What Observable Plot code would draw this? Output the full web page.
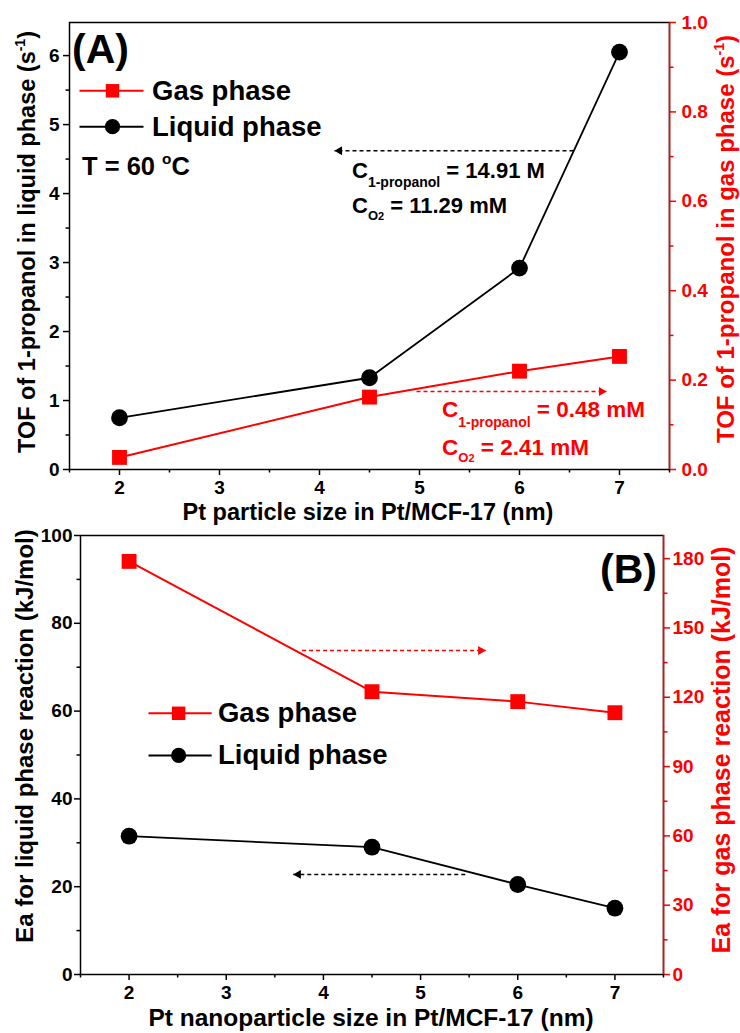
<!DOCTYPE html>
<html><head><meta charset="utf-8">
<script src="https://cdn.jsdelivr.net/npm/d3@7"></script>
<script src="https://cdn.jsdelivr.net/npm/@observablehq/plot@0.6"></script>
<style>
body{margin:0;background:#fff;}
#wrap{width:740px;}
#wrap svg{display:block;}
#wrap svg text{font-weight:bold;}
</style></head><body><div id="wrap"></div>
<script>
// ---- data ----
const sizes = [2, 4.5, 6, 7];                 // Pt particle size (nm)
const tofLiquid = [0.75, 1.33, 2.92, 6.05];   // s^-1, left axis (A)
const tofGas = [0.027, 0.162, 0.220, 0.253];  // s^-1, right axis (A)
const eaLiquid = [31.5, 29.0, 20.5, 15.1];    // kJ/mol, left axis (B)
const eaGas = [178.8, 122.4, 118.1, 113.3];   // kJ/mol, right axis (B)
const xTicks = [2, 3, 4, 5, 6, 7];
const xMinor = [1.5, 2.5, 3.5, 4.5, 5.5, 6.5, 7.5];
const tofLeftTicks = [0, 1, 2, 3, 4, 5, 6];
const tofLeftMinor = [0.5, 1.5, 2.5, 3.5, 4.5, 5.5];
const tofRightTicks = [0, 0.2, 0.4, 0.6, 0.8, 1.0];
const tofRightMinor = [0.1, 0.3, 0.5, 0.7, 0.9];
const eaLeftTicks = [0, 20, 40, 60, 80, 100];
const eaLeftMinor = [10, 30, 50, 70, 90];
const eaRightTicks = [0, 30, 60, 90, 120, 150, 180];
const eaRightMinor = [15, 45, 75, 105, 135, 165];

const FONT = "'Liberation Sans', Arial, Helvetica, sans-serif";
const RED = "#ff0000";
const kA = 6.48;        // left-axis value matching right 1.0 (A)
const kB = 100 / 190;   // left per right unit (B)

function rich(svg, px, py, parts, {size = 22, fill = "black", anchor = "start", rotate = 0} = {}) {
  const t = d3.select(svg).append("text")
    .attr("transform", `translate(${px},${py}) rotate(${rotate})`)
    .attr("text-anchor", anchor).attr("fill", fill)
    .attr("font-family", FONT).attr("font-weight", "bold").attr("font-size", size);
  let shift = 0;
  for (const p of parts) {
    const s = t.append("tspan").text(p.t);
    let target = 0;
    if (p.sub) { s.attr("font-size", p.fs || size * 0.62); target = size * (p.off ?? 0.32); }
    if (p.sup) { s.attr("font-size", p.fs || size * 0.6); target = -size * (p.off ?? 0.42); }
    if (target !== shift) { s.attr("dy", target - shift); shift = target; }
  }
  return t;
}

// Plot's own tick labels are the only texts present right after rendering
function boldTicks(svg) {
  d3.select(svg).selectAll("text")
    .attr("font-size", 19).attr("font-weight", "bold").attr("font-family", FONT)
    .style("font-size", "19px").style("font-weight", "bold").style("font-family", FONT);
}

function axes(leftT, leftM, rightT, rightM, k, fmt, padL, padR) {
  return [
    Plot.axisX(xTicks, {tickSize: 6, tickPadding: 5, label: null, strokeWidth: 1.5, tickFormat: d => String(d)}),
    Plot.axisX(xMinor, {tickSize: 3.5, tickFormat: () => "", label: null, strokeWidth: 1.5}),
    Plot.axisY(leftT, {tickSize: 6, tickPadding: padL, label: null, strokeWidth: 1.5, tickFormat: d => String(d)}),
    Plot.axisY(leftM, {tickSize: 3.5, tickFormat: () => "", label: null, strokeWidth: 1.5}),
    Plot.axisY(rightT.map(v => v * k), {anchor: "right", color: RED, tickSize: 6, tickPadding: padR, tickFormat: fmt, label: null, strokeWidth: 1.5}),
    Plot.axisY(rightM.map(v => v * k), {anchor: "right", color: RED, tickSize: 3.5, tickFormat: () => "", label: null, strokeWidth: 1.5})
  ];
}

function dashedArrow(x1, x2, y, color) {
  const dir = x2 > x1 ? 1 : -1;
  return [
    Plot.link([{x1, x2, y}], {x1: "x1", x2: "x2", y1: "y", y2: "y", stroke: color, strokeWidth: 1.5, strokeDasharray: "4,3"}),
    Plot.dot([{x: x2, y}], {x: "x", y: "y", symbol: "triangle", r: 3.3, fill: color, stroke: "none", rotate: 90 * dir, dx: -5 * dir})
  ];
}

function legendMarks(xl1, xl2, xm, yG, yL) {
  return [
    Plot.link([{a: xl1, b: xl2, y: yG}], {x1: "a", x2: "b", y1: "y", y2: "y", stroke: RED, strokeWidth: 2}),
    Plot.dot([{x: xm, y: yG}], {x: "x", y: "y", symbol: "square", r: 7.6, fill: RED}),
    Plot.link([{a: xl1, b: xl2, y: yL}], {x1: "a", x2: "b", y1: "y", y2: "y", stroke: "black", strokeWidth: 2}),
    Plot.dot([{x: xm, y: yL}], {x: "x", y: "y", r: 7.6, fill: "black"})
  ];
}

const styleObj = {fontFamily: FONT, fontSize: "19px", fontWeight: "bold", background: "white", color: "black", overflow: "visible"};

// ---- Panel A ----
const gasA = sizes.map((x, i) => ({x, y: tofGas[i] * kA}));
const liqA = sizes.map((x, i) => ({x, y: tofLiquid[i]}));
const A = Plot.plot({
  width: 740, height: 520,
  marginTop: 22, marginBottom: 51, marginLeft: 69, marginRight: 71,
  x: {domain: [1.5, 7.5]}, y: {domain: [0, kA]},
  style: styleObj,
  marks: [
    ...axes(tofLeftTicks, tofLeftMinor, tofRightTicks, tofRightMinor, kA, d => (d / kA).toFixed(1), 4, 6),
    Plot.frame({stroke: "black", strokeWidth: 1.5}),
    Plot.ruleX([7.5], {stroke: RED, strokeWidth: 1.5}),
    ...dashedArrow(6.54, 4.15, 4.62, "black"),
    ...dashedArrow(4.97, 6.87, 1.13, RED),
    ...legendMarks(1.60, 2.24, 1.93, 5.49, 4.97),
    Plot.line(gasA, {x: "x", y: "y", stroke: RED, strokeWidth: 2}),
    Plot.dot(gasA, {x: "x", y: "y", symbol: "square", r: 8.4, fill: RED}),
    Plot.line(liqA, {x: "x", y: "y", stroke: "black", strokeWidth: 1.8}),
    Plot.dot(liqA, {x: "x", y: "y", r: 8.4, fill: "black"})
  ]
});
boldTicks(A);
{
  const sx = v => A.scale("x").apply(v), sy = v => A.scale("y").apply(v);
  rich(A, 72, 63, [{t: "(A)"}], {size: 41});
  rich(A, sx(2.33), sy(5.49) + 9.5, [{t: "Gas phase"}], {size: 27.5});
  rich(A, sx(2.33), sy(4.97) + 9.5, [{t: "Liquid phase"}], {size: 27.5});
  rich(A, sx(1.63), sy(4.26), [{t: "T = 60 "}, {t: "o", sup: true, off: 0.45}, {t: "C"}], {size: 25.5});
  rich(A, sx(4.33), sy(4.22), [{t: "C"}, {t: "1-propanol", sub: true, fs: 14, off: 0.42}, {t: " = 14.91 M"}], {size: 22});
  rich(A, sx(4.33), sy(3.71), [{t: "C"}, {t: "O", sub: true, fs: 13, off: 0.3}, {t: "2", sub: true, fs: 11, off: 0.3}, {t: " = 11.29 mM"}], {size: 22});
  rich(A, sx(5.23), sy(0.754), [{t: "C"}, {t: "1-propanol", sub: true, fs: 14, off: 0.45}, {t: " = 0.48 mM"}], {size: 22.5, fill: RED});
  rich(A, sx(5.23), sy(0.203), [{t: "C"}, {t: "O", sub: true, fs: 13, off: 0.3}, {t: "2", sub: true, fs: 11, off: 0.3}, {t: " = 2.41 mM"}], {size: 22.5, fill: RED});
  rich(A, 368, 520, [{t: "Pt particle size in Pt/MCF-17 (nm)"}], {size: 23.5, anchor: "middle"});
  rich(A, 35, 242, [{t: "TOF of 1-propanol in liquid phase (s"}, {t: "-1", sup: true, fs: 14}, {t: ")"}], {size: 23.5, anchor: "middle", rotate: -90});
  rich(A, 734, 239, [{t: "TOF of 1-propanol in gas phase (s"}, {t: "-1", sup: true, fs: 14}, {t: ")"}], {size: 24, anchor: "middle", rotate: -90, fill: RED});
}

// ---- Panel B ----
const gasB = sizes.map((x, i) => ({x, y: eaGas[i] * kB}));
const liqB = sizes.map((x, i) => ({x, y: eaLiquid[i]}));
const B = Plot.plot({
  width: 740, height: 513,
  marginTop: 15, marginBottom: 59, marginLeft: 80, marginRight: 77,
  x: {domain: [1.5, 7.5]}, y: {domain: [0, 100]},
  style: styleObj,
  marks: [
    ...axes(eaLeftTicks, eaLeftMinor, eaRightTicks, eaRightMinor, kB, d => String(Math.round(d / kB)), 2, 3),
    Plot.frame({stroke: "black", strokeWidth: 1.5}),
    Plot.ruleX([7.5], {stroke: RED, strokeWidth: 1.5}),
    ...dashedArrow(3.78, 5.67, 73.8, RED),
    ...dashedArrow(5.46, 3.69, 22.8, "black"),
    ...legendMarks(2.20, 2.85, 2.51, 59.5, 49.9),
    Plot.line(gasB, {x: "x", y: "y", stroke: RED, strokeWidth: 2}),
    Plot.dot(gasB, {x: "x", y: "y", symbol: "square", r: 8.4, fill: RED}),
    Plot.line(liqB, {x: "x", y: "y", stroke: "black", strokeWidth: 1.8}),
    Plot.dot(liqB, {x: "x", y: "y", r: 8.4, fill: "black"})
  ]
});
boldTicks(B);
{
  const sx = v => B.scale("x").apply(v), sy = v => B.scale("y").apply(v);
  rich(B, 657, 63, [{t: "(B)"}], {size: 41, anchor: "end"});
  rich(B, sx(2.92), sy(59.5) + 9.5, [{t: "Gas phase"}], {size: 27.5});
  rich(B, sx(2.92), sy(49.9) + 9.5, [{t: "Liquid phase"}], {size: 27.5});
  rich(B, 371, 506, [{t: "Pt nanoparticle size in Pt/MCF-17 (nm)"}], {size: 24.5, anchor: "middle"});
  rich(B, 33, 216, [{t: "Ea for liquid phase reaction (kJ/mol)"}], {size: 24, anchor: "middle", rotate: -90});
  rich(B, 730, 230, [{t: "Ea for gas phase reaction (kJ/mol)"}], {size: 25, anchor: "middle", rotate: -90, fill: RED});
}

document.getElementById("wrap").append(A, B);
</script>
</body></html>
